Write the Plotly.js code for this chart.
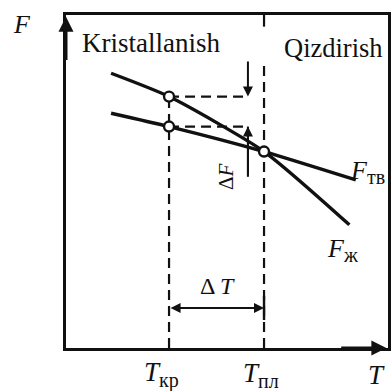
<!DOCTYPE html>
<html>
<head>
<meta charset="utf-8">
<script src="https://cdn.plot.ly/plotly-3.0.1.min.js"></script>
<style>
  html, body { margin: 0; padding: 0; background: #fff; }
  #chart { width: 392px; height: 391px; }
</style>
</head>
<body>
<div id="chart"></div>
<script>
// Free energy of the liquid and solid phases versus temperature
const tempLiquid = [14, 32, 61.5, 88];
const energyLiquid = [82.5, 75.5, 59, 37];
const tempSolid = [14, 32, 61.5, 90];
const energySolid = [70.5, 66.5, 59, 50.5];

// Characteristic temperatures
const T_kr = 32;     // crystallisation temperature
const T_pl = 61.5;   // melting temperature
const F_kr_liquid = 75.5;
const F_kr_solid = 66.5;
const F_pl = 59;

// Position of the ΔF marker and the ΔT dimension line
const dF_x = 56.5;
const dT_y = 12;

const serif = 'Liberation Serif';
const ink = '#111';
function font(size) { return { family: serif, size: size, color: ink }; }
function sub(s) { return '<sub><span style="font-size:20px">' + s + '</span></sub>'; }

const traces = [
  {
    x: tempLiquid, y: energyLiquid, mode: 'lines', line: { color: ink, width: 3.4, shape: 'spline', smoothing: 0.6 },
    hoverinfo: 'skip'
  },
  {
    x: tempSolid, y: energySolid, mode: 'lines', line: { color: ink, width: 3.4, shape: 'spline', smoothing: 0.6 },
    hoverinfo: 'skip'
  },
  // dashed guides
  {
    x: [T_kr, T_kr], y: [0, F_kr_liquid], mode: 'lines',
    line: { color: ink, width: 2.2, dash: '10px,6px' }, hoverinfo: 'skip'
  },
  {
    x: [T_pl, T_pl], y: [0, 86.5], mode: 'lines',
    line: { color: ink, width: 2.2, dash: '10px,6px' }, hoverinfo: 'skip'
  },
  {
    x: [T_pl, T_pl], y: [96.5, 100], mode: 'lines',
    line: { color: ink, width: 2.2 }, hoverinfo: 'skip'
  },
  {
    x: [T_kr, dF_x], y: [F_kr_liquid, F_kr_liquid], mode: 'lines',
    line: { color: ink, width: 2.2, dash: '10px,6px' }, hoverinfo: 'skip'
  },
  {
    x: [T_kr, dF_x], y: [F_kr_solid, F_kr_solid], mode: 'lines',
    line: { color: ink, width: 2.2, dash: '10px,6px' }, hoverinfo: 'skip'
  },
  {
    x: [dF_x, dF_x], y: [F_kr_solid, 51.4], mode: 'lines',
    line: { color: ink, width: 2 }, hoverinfo: 'skip'
  },
  // ΔT end tick
  {
    x: [T_pl, T_pl], y: [8.4, 15.6], mode: 'lines',
    line: { color: ink, width: 2.4 }, hoverinfo: 'skip'
  },
  // intersection points
  {
    x: [T_kr, T_kr, T_pl], y: [F_kr_liquid, F_kr_solid, F_pl], mode: 'markers',
    marker: { size: 10, color: '#fff', line: { color: ink, width: 2.4 } },
    hoverinfo: 'skip'
  }
];

function label(x, y, text, size, extra) {
  return Object.assign({ x: x, y: y, xref: 'x', yref: 'y', showarrow: false,
    xanchor: 'center', yanchor: 'middle', text: text, font: font(size) }, extra || {});
}
function arrow(x, y, ax, ay, width, extra) {
  return Object.assign({ x: x, y: y, ax: ax, ay: ay, xref: 'x', yref: 'y', axref: 'x', ayref: 'y',
    showarrow: true, arrowhead: 2, arrowsize: 1, arrowwidth: width, arrowcolor: ink, text: '' }, extra || {});
}

const annotations = [
  // axis arrows
  arrow(0, 99.5, 0, 86, 3),
  arrow(99.5, 0, 85, 0, 3),
  // ΔF arrows
  arrow(dF_x, F_kr_liquid, dF_x, 86.5, 2),
  arrow(dF_x, F_kr_solid, dF_x, 51.4, 2),
  // ΔT double arrow
  arrow(T_pl, dT_y, T_kr, dT_y, 2, { startarrowhead: 2, arrowside: 'end+start' }),
  // texts
  label(-0.137, 0.97, '<i>F</i>', 26, { xref: 'paper', yref: 'paper' }),
  label(4.3, 91.5, 'Kristallanish', 27, { xanchor: 'left' }),
  label(67, 90.2, 'Qizdirish', 26.5, { xanchor: 'left' }),
  label(87.5, 53, '<i>F</i>' + sub('тв'), 26, { xanchor: 'left' }),
  label(80.5, 29.5, '<i>F</i>' + sub('ж'), 26, { xanchor: 'left' }),
  label(49.5, 51.5, 'Δ<i>F</i>', 21, { textangle: -90 }),
  label(47.2, 18.5, 'Δ <i>T</i>', 24),
  label(23.6, -0.08, '<i>T</i>' + sub('кр'), 27, { yref: 'paper', xanchor: 'left' }),
  label(54.4, -0.08, '<i>T</i>' + sub('пл'), 27, { yref: 'paper', xanchor: 'left' }),
  label(0.933, -0.08, '<i>T</i>', 27, { xref: 'paper', yref: 'paper', xanchor: 'left' })
];

const layout = {
  width: 392, height: 391,
  margin: { l: 66, r: 4, t: 15, b: 43 },
  paper_bgcolor: '#fff', plot_bgcolor: '#fff',
  font: { family: serif, color: ink },
  showlegend: false,
  xaxis: { range: [0, 100], showgrid: false, zeroline: false, showticklabels: false, ticks: '',
           showline: true, mirror: true, linecolor: ink, linewidth: 3, fixedrange: true },
  yaxis: { range: [0, 100], showgrid: false, zeroline: false, showticklabels: false, ticks: '',
           showline: true, mirror: true, linecolor: ink, linewidth: 3, fixedrange: true },
  annotations: annotations
};

Plotly.newPlot('chart', traces, layout, { displayModeBar: false, staticPlot: true });
</script>
</body>
</html>
